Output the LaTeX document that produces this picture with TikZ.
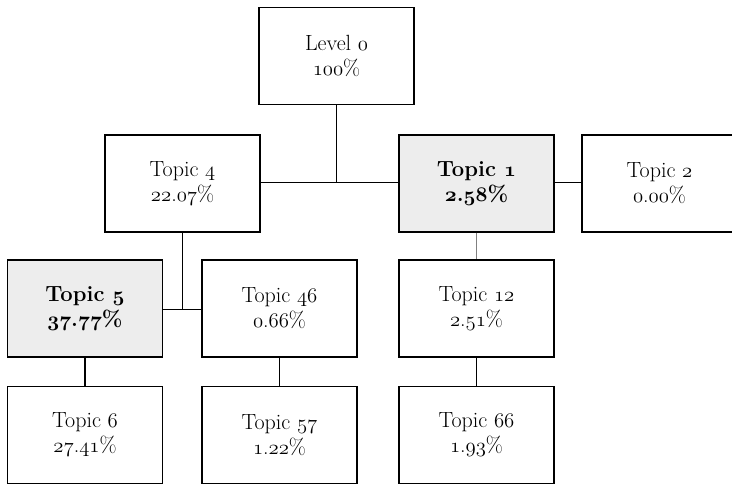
\documentclass[tikz,border=0pt]{standalone}
\usetikzlibrary{calc}

\makeatletter
\newcommand{\osn}[1]{{\fontencoding{OML}\fontfamily{cmm}\fontshape{it}%
	\ifx\f@series\bfdefault\fontseries{b}\fi\selectfont #1}}
\makeatother
\newcommand{\share}[2]{\osn{#1}.\osn{#2}\%}

\begin{document}
\begin{tikzpicture}[x=1pt,y=1pt,
	topicbox/.style={draw,line width=1.4pt,minimum width=155pt,minimum height=97pt,
		align=center,font=\fontsize{22}{25}\selectfont},
	hotbox/.style={topicbox,fill=gray!14,font=\fontsize{22}{25}\selectfont\bfseries},
	link/.style={line width=1.3pt},
	thinlink/.style={line width=0.6pt,gray}]

	\useasboundingbox (0,0) rectangle (732,-485);

	\node[topicbox] (lvl0) at (336.5,-56) {Level \osn{0}\\\osn{100}\%};

	\node[topicbox] (t4) at (182.5,-183.5) {Topic \osn{4}\\\share{22}{07}};
	\node[hotbox] (t1) at (476.5,-183.5) {Topic \osn{1}\\\share{2}{58}};
	\node[topicbox] (t2) at (659.5,-183.5) {Topic \osn{2}\\\share{0}{00}};

	\node[hotbox] (t5) at (85,-308.5) {Topic \osn{5}\\\share{37}{77}};
	\node[topicbox] (t46) at (279.5,-308.5) {Topic \osn{46}\\\share{0}{66}};
	\node[topicbox] (t12) at (476.5,-308.5) {Topic \osn{12}\\\share{2}{51}};

	\node[topicbox] (t6) at (85,-435) {Topic \osn{6}\\\share{27}{41}};
	\node[topicbox] (t57) at (279.5,-435) {Topic \osn{57}\\\share{1}{22}};
	\node[topicbox] (t66) at (476.5,-435) {Topic \osn{66}\\\share{1}{93}};

	\coordinate (j0) at ($(lvl0.south)+(0,-77)$);
	\coordinate (j4) at ($(t4.south)+(0,-77)$);

	\draw[link] (lvl0.south) -- (j0);
	\draw[link] (t4.east |- j0) -- (t1.west |- j0);
	\draw[link] (t1.east |- j0) -- (t2.west |- j0);

	\draw[link] (t4.south) -- (j4);
	\draw[link] (t5.east |- j4) -- (t46.west |- j4);
	\draw[thinlink] (t1.south) -- (t12.north);

	\draw[link] (t5.south) -- (t6.north);
	\draw[link] (t46.south) -- (t57.north);
	\draw[link] (t12.south) -- (t66.north);

\end{tikzpicture}
\end{document}
